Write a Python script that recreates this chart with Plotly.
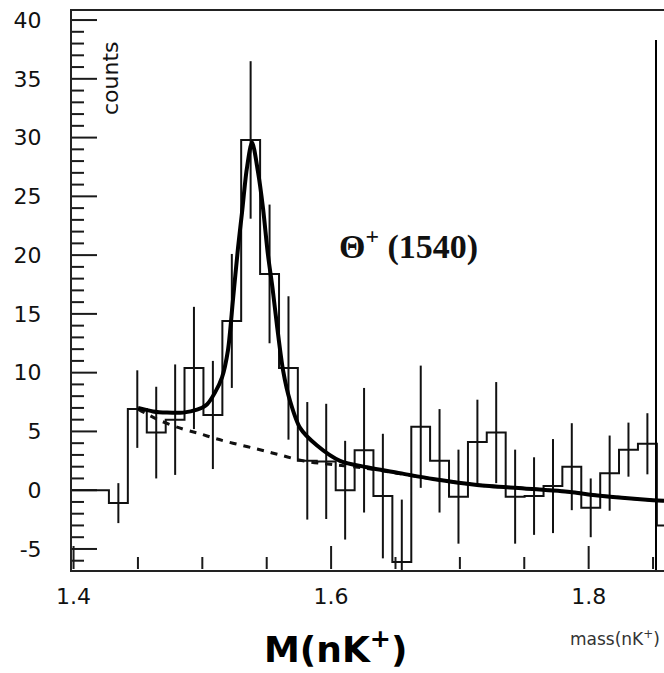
import plotly.graph_objects as go

# ---------------- data ----------------
bin_centers = [1.4055, 1.4202, 1.4348, 1.4495, 1.4642, 1.4789, 1.4935, 1.5082,
               1.5229, 1.5375, 1.5522, 1.5669, 1.5815, 1.5962, 1.6109, 1.6256,
               1.6402, 1.6549, 1.6696, 1.6842, 1.6989, 1.7136, 1.7282, 1.7429,
               1.7576, 1.7723, 1.7869, 1.8016, 1.8163, 1.8309, 1.8456, 1.8603]
counts = [0, 0, -1.1, 6.9, 4.9, 6.0, 10.4, 6.4,
          14.4, 29.8, 18.4, 10.4, 2.5, 2.45, 0.0, 3.4,
          -0.5, -6.1, 5.4, 2.5, -0.55, 4.1, 4.9, -0.55,
          -0.5, 0.35, 2.0, -1.5, 1.45, 3.45, 3.95, -3.0]
errors = [0, 0, 1.7, 3.3, 3.9, 4.7, 5.2, 4.6,
          5.7, 6.7, 5.9, 6.1, 5.0, 4.9, 4.2, 5.3,
          5.3, 5.3, 5.2, 4.4, 4.0, 3.6, 4.3, 4.0,
          3.3, 4.0, 3.7, 2.5, 3.2, 2.3, 2.6, 0]

# total fit (signal + background)
fit_mass = [1.4501, 1.4617, 1.4726, 1.4850, 1.4959, 1.5036, 1.5098, 1.5153,
            1.5199, 1.5238, 1.5277, 1.5308, 1.5345, 1.5386, 1.5432, 1.5471,
            1.5510, 1.5545, 1.5580, 1.5627, 1.5681, 1.5759, 1.5891, 1.6069,
            1.6279, 1.6535, 1.6791, 1.7133, 1.7500, 1.7855, 1.8033, 1.8499, 1.8585]
fit_vals = [7.0, 6.7, 6.6, 6.6, 6.85, 7.3, 8.3, 9.6,
            11.9, 16.2, 20.6, 23.6, 27.3, 29.6, 27.1, 24.0,
            20.0, 17.2, 14.0, 10.2, 7.6, 5.3, 3.8, 2.5,
            1.95, 1.45, 0.95, 0.45, 0.15, -0.15, -0.4, -0.85, -0.9]

# background fit (dashed)
bg_mass = [1.4501, 1.4656, 1.4850, 1.4982, 1.5099, 1.5238, 1.5425, 1.5603,
           1.5781, 1.5991, 1.6279, 1.6535, 1.6791, 1.7133, 1.7500, 1.7855,
           1.8033, 1.8499, 1.8585]
bg_vals = [6.9, 6.0, 5.2, 4.8, 4.4, 4.0, 3.5, 3.0,
           2.5, 2.2, 1.85, 1.4, 0.95, 0.45, 0.15, -0.15,
           -0.4, -0.85, -0.9]

x_tickvals = [1.4, 1.6, 1.8]
x_ticktext = ["1.4", "1.6", "1.8"]
x_minor_step = 0.05
y_tickvals = [-5, 0, 5, 10, 15, 20, 25, 30, 35, 40]
y_ticktext = ["-5", "0", "5", "10", "15", "20", "25", "30", "35", "40"]
y_minor_step = 1

# ---------------- layout geometry (pixels) ----------------
W, H = 664, 673
L, R, T, B = 72, 664, 11, 570
X_RANGE = [1.3988, 1.8585]
Y_RANGE = [-6.79, 40.77]
MAJOR_LEN_X, MINOR_LEN_X = 23, 12
MAJOR_LEN_Y, MINOR_LEN_Y = 25, 12
TICK_COLOR = "#1a1a1a"


def px(xp):
    return (xp - L) / (R - L)


def py(yp):
    return (B - yp) / (B - T)


# data units per pixel (to turn tick lengths into axis units)
x_per_px = (X_RANGE[1] - X_RANGE[0]) / (R - L)
y_per_px = (Y_RANGE[1] - Y_RANGE[0]) / (B - T)

# minor tick positions (excluding the major ones)
x_minor_vals = []
v = 1.4
while v <= X_RANGE[1]:
    if all(abs(v - t) > 1e-6 for t in x_tickvals):
        x_minor_vals.append(round(v, 4))
    v += x_minor_step
y_minor_vals = [k for k in range(-6, 41, y_minor_step) if k not in y_tickvals]

# histogram as steps through bin edges
n = len(bin_centers)
width = (bin_centers[-1] - bin_centers[0]) / (n - 1)
edges = [c - width / 2 for c in bin_centers] + [bin_centers[-1] + width / 2]
step_y = counts + [counts[-1]]

fig = go.Figure()

# inward tick marks on the mass axis (vertical segments)
tx, ty = [], []
y0_axis = Y_RANGE[0] + 1 * y_per_px
for xv in x_tickvals + x_minor_vals:
    ln = MAJOR_LEN_X if xv in x_tickvals else MINOR_LEN_X
    tx += [xv, xv, None]
    ty += [y0_axis, y0_axis + ln * y_per_px, None]
fig.add_trace(go.Scatter(
    x=tx, y=ty, mode="lines", line=dict(color=TICK_COLOR, width=2),
    hoverinfo="skip", showlegend=False))

# inward tick marks on the counts axis: horizontal bars from the axis
x_axis = X_RANGE[0]
y_ticks_all = y_tickvals + y_minor_vals
half_lens = [(MAJOR_LEN_Y if yv in y_tickvals else MINOR_LEN_Y) * x_per_px / 2
             for yv in y_ticks_all]
fig.add_trace(go.Scatter(
    x=[x_axis + h for h in half_lens], y=y_ticks_all, mode="markers",
    marker=dict(size=1, color="rgba(0,0,0,0)"),
    error_x=dict(type="data", array=half_lens, visible=True, width=0,
                 thickness=2, color=TICK_COLOR),
    hoverinfo="skip", showlegend=False, cliponaxis=False))

fig.add_trace(go.Scatter(
    x=edges, y=step_y, mode="lines", line=dict(shape="hv", color="#111", width=2),
    hoverinfo="skip", showlegend=False))

fig.add_trace(go.Scatter(
    x=bin_centers, y=counts, mode="markers",
    marker=dict(size=1, color="rgba(0,0,0,0)"),
    error_y=dict(type="data", array=errors, visible=True, width=0,
                 thickness=2, color="#111"),
    showlegend=False))

fig.add_trace(go.Scatter(
    x=bg_mass, y=bg_vals, mode="lines",
    line=dict(shape="spline", color="#111", width=3, dash="7px,7px"),
    showlegend=False))

fig.add_trace(go.Scatter(
    x=fit_mass, y=fit_vals, mode="lines",
    line=dict(shape="spline", smoothing=0.8, color="#000", width=4),
    showlegend=False))

tick_font = dict(family="DejaVu Sans", size=22, color="#111")

fig.update_xaxes(
    range=X_RANGE, showgrid=False, zeroline=False,
    showline=True, linecolor="#222", linewidth=2, mirror=True,
    ticks="", tickmode="array", tickvals=x_tickvals, ticktext=x_ticktext,
    tickfont=tick_font, ticklabelstandoff=6)

fig.update_yaxes(
    range=Y_RANGE, showgrid=False, zeroline=False,
    showline=True, linecolor="#222", linewidth=2, mirror=False,
    ticks="", tickmode="array", tickvals=y_tickvals, ticktext=y_ticktext,
    tickfont=tick_font, ticklabelstandoff=24)

# right frame line
fig.add_shape(type="line", xref="paper", yref="paper",
              x0=px(656), x1=px(656), y0=0, y1=py(40),
              line=dict(color="#000", width=2))

fig.add_annotation(
    text="counts", textangle=-90, xref="paper", yref="paper",
    x=px(110), y=py(78), xanchor="center", yanchor="middle", showarrow=False,
    font=dict(family="DejaVu Sans", size=22, color="#111"))

fig.add_annotation(
    text="<b>\u0398<sup>+</sup> (1540)</b>", xref="paper", yref="paper",
    x=px(408), y=py(245), xanchor="center", yanchor="middle", showarrow=False,
    font=dict(family="Liberation Serif", size=34, color="#111"))

fig.add_annotation(
    text="<b>M(nK<sup>+</sup>)</b>", xref="paper", yref="paper",
    x=px(335), y=py(647), xanchor="center", yanchor="middle", showarrow=False,
    font=dict(family="DejaVu Sans", size=36, color="#000"))

fig.add_annotation(
    text="mass(nK<sup>+</sup>)", xref="paper", yref="paper",
    x=px(568), y=py(638), xanchor="left", yanchor="middle", showarrow=False,
    font=dict(family="DejaVu Sans", size=17, color="#333"))

fig.update_layout(
    width=W, height=H,
    margin=dict(l=L, r=W - R, t=T, b=H - B),
    paper_bgcolor="white", plot_bgcolor="white",
    showlegend=False)

fig.write_html("out.html")
